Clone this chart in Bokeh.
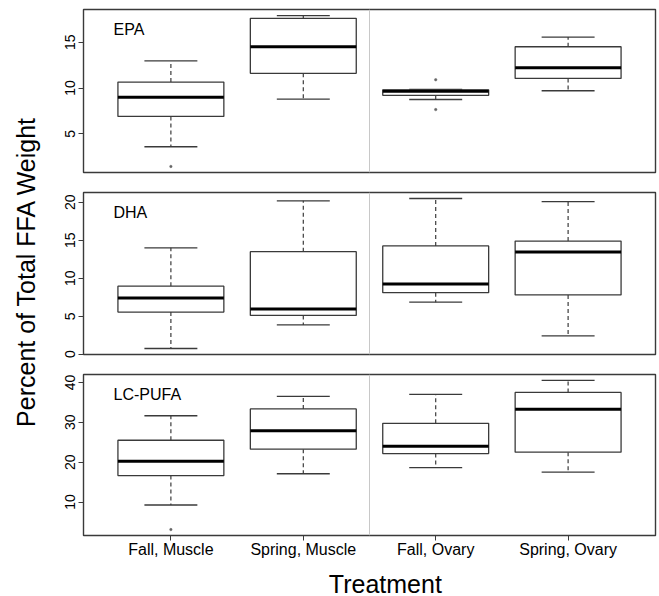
import math
from bokeh.plotting import figure
from bokeh.layouts import column, row
from bokeh.models import FixedTicker, Span, Label
from bokeh.embed import file_html
from bokeh.resources import INLINE

# Treatments on the x axis
categories = ["Fall, Muscle", "Spring, Muscle", "Fall, Ovary", "Spring, Ovary"]

# EPA (% of total FFA weight): whisker ends, quartiles, medians, outliers
epa_low = [3.6, 8.8, 8.75, 9.7]
epa_q1 = [6.9, 11.6, 9.2, 11.05]
epa_med = [9.0, 14.5, 9.65, 12.2]
epa_q3 = [10.65, 17.6, 9.8, 14.5]
epa_high = [12.95, 17.9, 9.85, 15.55]
epa_out_group = [1, 3, 3]
epa_out_value = [1.45, 10.9, 7.65]
epa_ticks = [5, 10, 15]

# DHA
dha_low = [0.75, 3.85, 6.85, 2.4]
dha_q1 = [5.55, 5.1, 8.1, 7.8]
dha_med = [7.4, 5.95, 9.25, 13.45]
dha_q3 = [8.95, 13.5, 14.25, 14.9]
dha_high = [14.0, 20.2, 20.5, 20.1]
dha_out_group = []
dha_out_value = []
dha_ticks = [0, 5, 10, 15, 20]

# LC-PUFA
lc_low = [9.25, 17.1, 18.65, 17.5]
lc_q1 = [16.65, 23.25, 22.15, 22.5]
lc_med = [20.25, 27.9, 24.0, 33.25]
lc_q3 = [25.5, 33.35, 29.75, 37.5]
lc_high = [31.65, 36.5, 37.0, 40.5]
lc_out_group = [1]
lc_out_value = [3.1]
lc_ticks = [10, 20, 30, 40]

FONT = "Liberation Sans"
EDGE = "#3a3a3a"
PANEL_W = 614
LEFT = 38
RIGHT = 4


def panel(name, low, q1, med, q3, high, out_g, out_v, ticks, height, top, bottom, show_x):
    vals = low + high + out_v
    lo, hi = min(vals), max(vals)
    pad = 0.04 * (hi - lo)
    n = len(categories)
    xpad = 0.04 * n
    p = figure(width=PANEL_W, height=height, output_backend="svg", toolbar_location=None,
               x_range=(0.5 - xpad, n + 0.5 + xpad), y_range=(lo - pad, hi + pad),
               min_border_left=LEFT, min_border_right=RIGHT, min_border_top=top,
               min_border_bottom=bottom)
    p.grid.visible = False
    p.outline_line_color = EDGE
    p.outline_line_width = 1.4
    p.background_fill_color = "white"
    p.border_fill_color = "white"

    xs = list(range(1, n + 1))
    # divider between muscle and ovary tissue
    p.add_layout(Span(location=2.5, dimension="height", line_color="#c8c8c8", line_width=1))

    # dashed whiskers, caps, boxes and medians
    p.segment(xs, q3, xs, high, line_color=EDGE, line_width=1.2, line_dash="4 3")
    p.segment(xs, q1, xs, low, line_color=EDGE, line_width=1.2, line_dash="4 3")
    p.segment([x - 0.2 for x in xs], high, [x + 0.2 for x in xs], high,
              line_color=EDGE, line_width=1.3)
    p.segment([x - 0.2 for x in xs], low, [x + 0.2 for x in xs], low,
              line_color=EDGE, line_width=1.3)
    p.quad(left=[x - 0.4 for x in xs], right=[x + 0.4 for x in xs], bottom=q1, top=q3,
           fill_color="white", line_color=EDGE, line_width=1.3)
    p.segment([x - 0.4 for x in xs], med, [x + 0.4 for x in xs], med,
              line_color="black", line_width=3)
    if out_g:
        p.scatter(out_g, out_v, size=2.5, marker="circle", fill_color="#666666",
                  line_color="#666666", line_width=0.5)

    p.add_layout(Label(x=0.5 - xpad, y=hi + pad, x_offset=30, y_offset=-11, text=name,
                       text_baseline="top", text_font=FONT, text_font_size="16px",
                       text_color="black"))

    ya = p.yaxis[0]
    ya.ticker = FixedTicker(ticks=ticks)
    ya.major_label_orientation = "vertical"
    ya.axis_line_color = None
    ya.major_tick_in = 0
    ya.major_tick_out = 5
    ya.major_tick_line_color = EDGE
    ya.minor_tick_line_color = None
    ya.major_label_standoff = 3
    ya.major_label_text_font = FONT
    ya.major_label_text_font_size = "14px"
    ya.major_label_text_color = "black"

    xa = p.xaxis[0]
    if show_x:
        xa.ticker = FixedTicker(ticks=xs)
        xa.major_label_overrides = {i + 1: c for i, c in enumerate(categories)}
        xa.axis_line_color = None
        xa.major_tick_in = 0
        xa.major_tick_out = 5
        xa.major_tick_line_color = EDGE
        xa.minor_tick_line_color = None
        xa.major_label_standoff = 0
        xa.major_label_text_font = FONT
        xa.major_label_text_font_size = "16px"
        xa.major_label_text_color = "black"
    else:
        xa.visible = False
    return p


p1 = panel("EPA", epa_low, epa_q1, epa_med, epa_q3, epa_high, epa_out_group, epa_out_value,
           epa_ticks, 182, 9, 10, False)
p2 = panel("DHA", dha_low, dha_q1, dha_med, dha_q3, dha_high, dha_out_group, dha_out_value,
           dha_ticks, 182, 10, 10, False)
p3 = panel("LC-PUFA", lc_low, lc_q1, lc_med, lc_q3, lc_high, lc_out_group, lc_out_value,
           lc_ticks, 201, 10, 30, True)

# x-axis title strip under the bottom panel
xlab = figure(width=PANEL_W, height=31, output_backend="svg", toolbar_location=None,
              x_range=(0, PANEL_W), y_range=(0, 31), min_border=0)
xlab.axis.visible = False
xlab.grid.visible = False
xlab.outline_line_color = None
xlab.add_layout(Label(x=LEFT + (PANEL_W - LEFT - RIGHT) / 2, y=13, text="Treatment",
                      text_align="center", text_baseline="middle", text_font=FONT,
                      text_font_size="25px", text_color="black"))

# shared y-axis title in its own narrow strip
ylab = figure(width=45, height=596, output_backend="svg", toolbar_location=None,
              x_range=(0, 45), y_range=(0, 596), min_border=0)
ylab.axis.visible = False
ylab.grid.visible = False
ylab.outline_line_color = None
ylab.add_layout(Label(x=25, y=325, text="Percent of Total FFA Weight", angle=math.pi / 2,
                      text_align="center", text_baseline="middle", text_font=FONT,
                      text_font_size="25px", text_color="black"))

layout = row(ylab, column(p1, p2, p3, xlab))

open("out.html", "w").write(file_html(layout, INLINE))
